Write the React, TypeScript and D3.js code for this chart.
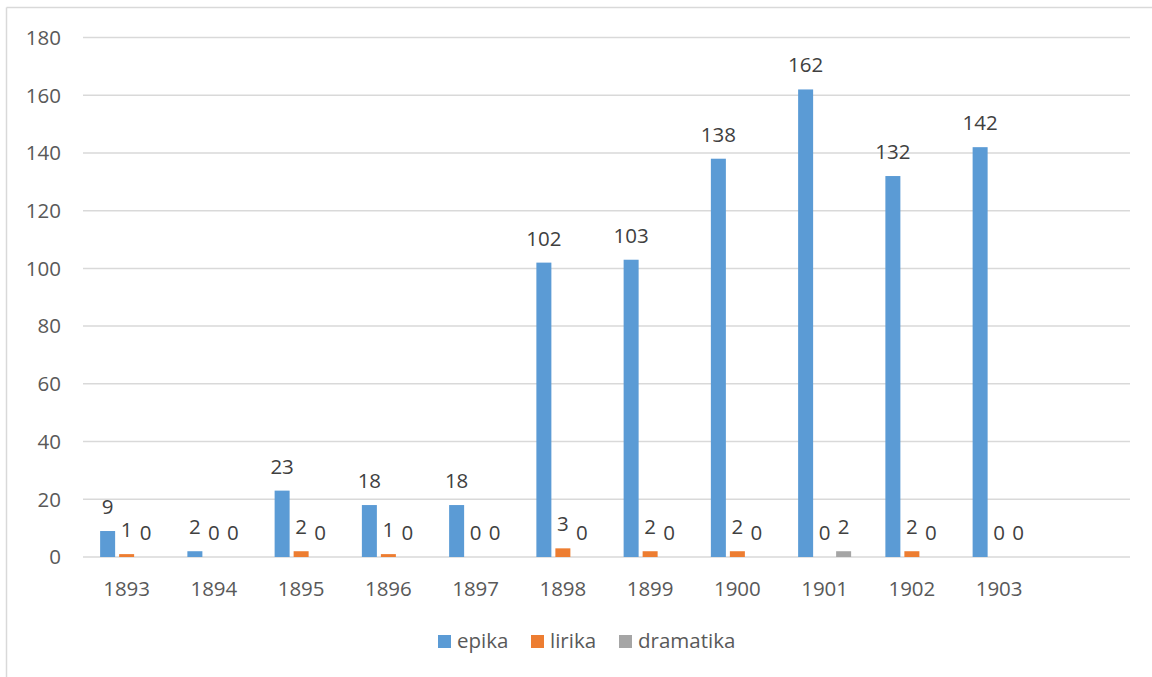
import React, { useEffect, useRef } from "react";
import * as d3 from "d3";

// Years on the category axis (last slot is an empty category)
const years = ["1893", "1894", "1895", "1896", "1897", "1898", "1899", "1900", "1901", "1902", "1903", ""];
const seriesNames = ["epika", "lirika", "dramatika"];
const epika = [9, 2, 23, 18, 18, 102, 103, 138, 162, 132, 142];
const lirika = [1, 0, 2, 1, 0, 3, 2, 2, 0, 2, 0];
const dramatika = [0, 0, 0, 0, 0, 0, 0, 0, 2, 0, 0];
const colors = ["#5b9bd5", "#ed7d31", "#a5a5a5"];
const yTicks = [0, 20, 40, 60, 80, 100, 120, 140, 160, 180];

const W = 1152;
const H = 677;
const FONT = "'Open Sans', 'Noto Sans', sans-serif";
const FS = "20.5px";
const TEXT = "#595959";

export default function App() {
  const ref = useRef<SVGSVGElement>(null);

  useEffect(() => {
    const svg = d3.select(ref.current);
    svg.selectAll("*").remove();

    // chart frame (top and left edges visible)
    svg.append("line").attr("x1", 6.5).attr("x2", W).attr("y1", 7.5).attr("y2", 7.5)
      .attr("stroke", "#d9d9d9").attr("stroke-width", 1.5);
    svg.append("line").attr("x1", 6.5).attr("x2", 6.5).attr("y1", 7.5).attr("y2", H)
      .attr("stroke", "#d9d9d9").attr("stroke-width", 1.5);

    const left = 83, right = 1130, top = 37.5, bottom = 557;
    const x = d3.scaleBand<string>().domain(years.map((y, i) => i + ":" + y)).range([left, right]);
    const y = d3.scaleLinear().domain([0, 180]).range([bottom, top]);

    const g = svg.append("g");
    g.selectAll("line.grid").data(yTicks).join("line")
      .attr("x1", left).attr("x2", right)
      .attr("y1", (d) => y(d)).attr("y2", (d) => y(d))
      .attr("stroke", "#d9d9d9").attr("stroke-width", 1.5);

    g.selectAll("text.ytick").data(yTicks).join("text")
      .attr("x", 61).attr("y", (d) => y(d)).attr("dy", "0.36em")
      .attr("text-anchor", "end").attr("fill", TEXT)
      .style("font-family", FONT).style("font-size", FS)
      .text((d) => d);

    g.selectAll("text.xtick").data(years).join("text")
      .attr("x", (d, i) => x(i + ":" + d)! + x.bandwidth() / 2)
      .attr("y", 596)
      .attr("text-anchor", "middle").attr("fill", TEXT)
      .style("font-family", FONT).style("font-size", FS)
      .text((d) => d);

    const barW = 15, gap = 4;
    const series = [epika, lirika, dramatika];
    series.forEach((vals, s) => {
      const offset = (s - 1) * (barW + gap);
      vals.forEach((v, i) => {
        const cx = x(i + ":" + years[i])! + x.bandwidth() / 2 + offset;
        if (v > 0) {
          g.append("rect")
            .attr("x", cx - barW / 2).attr("width", barW)
            .attr("y", y(v)).attr("height", y(0) - y(v))
            .attr("fill", colors[s]);
        }
        g.append("text")
          .attr("x", cx).attr("y", y(v) - 17)
          .attr("text-anchor", "middle").attr("fill", "#404040")
          .style("font-family", FONT).style("font-size", FS)
          .text(v);
      });
    });

    // legend
    const legendX = [438, 531, 619];
    seriesNames.forEach((name, i) => {
      svg.append("rect").attr("x", legendX[i]).attr("y", 635).attr("width", 13).attr("height", 13)
        .attr("fill", colors[i]);
      svg.append("text").attr("x", legendX[i] + 19).attr("y", 648)
        .attr("fill", TEXT).style("font-family", FONT).style("font-size", FS)
        .text(name);
    });
  }, []);

  return (
    <svg ref={ref} width={W} height={H}
      style={{ position: "absolute", left: 0, top: 0, background: "#fff" }} />
  );
}
